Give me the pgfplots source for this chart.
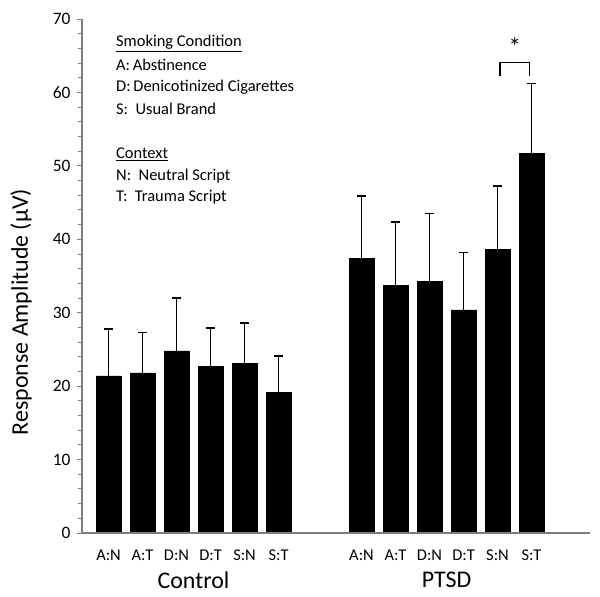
\documentclass[border=0pt]{standalone}
\usepackage{pgfplots}
\pgfplotsset{compat=1.18}
\usepackage{pgfplotstable}
\usepackage{fontspec}
\setmainfont{Carlito}
\pgfplotstableread{
x y ey
0 21.4 6.4
1 21.8 5.5
2 24.8 7.2
3 22.7 5.2
4 23.1 5.5
5 19.2 4.9
7.44 37.4 8.5
8.44 33.7 8.7
9.44 34.3 9.2
10.44 30.4 7.8
11.44 38.6 8.7
12.44 51.7 9.5
}\data
\definecolor{axgray}{RGB}{125,125,125}
\begin{document}
\begin{tikzpicture}
\path[use as bounding box] (-82bp,-64bp) rectangle (518bp,533bp);
\begin{axis}[
  at={(0,0)}, anchor=south west,
  scale only axis, width=508bp, height=514bp,
  xmin=-0.78, xmax=14.16, ymin=0, ymax=70,
  axis x line*=bottom, axis y line*=left,
  axis line style={color=axgray, line width=1.4pt},
  ytick={0,10,...,70}, minor y tick num=4,
  tick align=outside, major tick length=5bp, minor tick length=4bp,
  y tick style={color=axgray, line width=0.9pt},
  xtick={0,1,2,3,4,5,7.44,8.44,9.44,10.44,11.44,12.44},
  xticklabels={A:N,A:T,D:N,D:T,S:N,S:T,A:N,A:T,D:N,D:T,S:N,S:T},
  x tick style={draw=none},
  xticklabel style={font=\fontsize{16.5}{19}\selectfont, yshift=-8bp},
  yticklabel style={font=\fontsize{17.5}{20}\selectfont, xshift=-3bp},
  /pgf/number format/assume math mode=true,
  clip=false,
]
\addplot[ybar, bar width=0.735, bar shift=0, fill=black, draw=black,
  error bars/.cd, y dir=plus, y explicit,
  error bar style={line width=1.4pt, black},
  error mark options={rotate=90, mark size=4.5bp, line width=1.7pt, black}]
  table[x=x, y=y, y error=ey] {\data};
\draw[axgray, line width=1.4pt] (axis cs:-0.78,0) -- (axis cs:14.16,0);
\draw[axgray, line width=1.4pt] (axis cs:-0.78,0) -- (axis cs:-0.78,70);
% significance bracket
\draw[line width=1.4pt] (axis cs:11.51,62.2) -- (axis cs:11.51,64.1) -- (axis cs:12.38,64.1) -- (axis cs:12.38,62.2);
\node[font=\fontsize{25}{27}\selectfont] at (axis cs:11.95,66.3) {*};
% legend text
\begin{scope}[every node/.style={anchor=west, inner sep=0pt, font=\fontsize{16.5}{19}\selectfont}]
\node at (axis cs:0.22,66.7) {\underline{Smoking Condition}};
\node at (axis cs:0.22,63.7) {A:\,Abstinence};
\node at (axis cs:0.22,60.7) {D:\,Denicotinized Cigarettes};
\node at (axis cs:0.22,57.7) {S:\ \ Usual Brand};
\node at (axis cs:0.22,51.6) {\underline{Context}};
\node at (axis cs:0.22,48.6) {N:\ \ Neutral Script};
\node at (axis cs:0.22,45.7) {T:\ \ Trauma Script};
\end{scope}
\node[font=\fontsize{24}{26}\selectfont] at ([yshift=-47bp]axis cs:2.5,0) {Control};
\node[font=\fontsize{24}{26}\selectfont] at ([yshift=-47bp]axis cs:9.94,0) {PTSD};
\node[rotate=90, font=\fontsize{24}{26}\selectfont] at ([xshift=-61bp]axis cs:-0.78,30.1) {Response Amplitude (µV)};
\end{axis}
\end{tikzpicture}
\end{document}
